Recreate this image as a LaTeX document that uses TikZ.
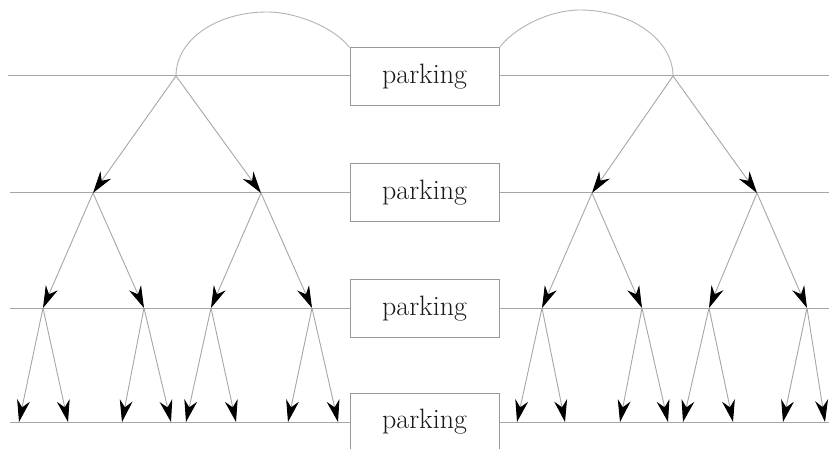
\documentclass[tikz,border=0pt]{standalone}
\usetikzlibrary{arrows.meta}
\tikzset{
  road/.style={draw=black!35, line width=1pt},
  hop/.style={draw=black!35, line width=0.9pt, -{Stealth[length=22pt,width=13pt,inset=7pt,color=black]}},
  park/.style={draw=black!40, line width=1pt, fill=white, minimum width=149pt, minimum height=58pt, inner sep=0pt, text=black!90, font=\fontsize{28}{30}\selectfont}
}
\begin{document}
\begin{tikzpicture}[x=1pt,y=-1pt]
\useasboundingbox (0,0) rectangle (830,449);

% parking boxes
\node[park] (p1) at (424.5,77) {parking};
\node[park] (p2) at (424.5,193) {parking};
\node[park] (p3) at (424.5,308.5) {parking};
\node[park] (p4) at (424.5,422) {parking};

% ends of the lines
\coordinate (w1) at (8,76);  \coordinate (e1) at (829,76);
\coordinate (w2) at (10,193); \coordinate (e2) at (829,193);
\coordinate (w3) at (10,308); \coordinate (e3) at (829,308);
\coordinate (w4) at (10,422); \coordinate (e4) at (829,422);

\draw[road] (w1) -- (p1.west |- w1) (p1.east |- e1) -- (e1);
\draw[road] (w2) -- (p2.west |- w2) (p2.east |- e2) -- (e2);
\draw[road] (w3) -- (p3.west |- w3) (p3.east |- e3) -- (e3);
\draw[road] (w4) -- (p4.west |- w4) (p4.east |- e4) -- (e4);

% left tree
\coordinate (a) at (176,76);
\coordinate (a1) at (93,193);  \coordinate (a2) at (261,193);
\coordinate (a11) at (43,308); \coordinate (a12) at (144,308);
\coordinate (a21) at (211,308); \coordinate (a22) at (312,308);
\coordinate (a111) at (19,422); \coordinate (a112) at (68,422);
\coordinate (a121) at (122,422); \coordinate (a122) at (171,422);
\coordinate (a211) at (186,422); \coordinate (a212) at (236,422);
\coordinate (a221) at (288,422); \coordinate (a222) at (338,422);

% right tree
\coordinate (b) at (673,76);
\coordinate (b1) at (592,193);  \coordinate (b2) at (757,193);
\coordinate (b11) at (542,308); \coordinate (b12) at (642,308);
\coordinate (b21) at (709,308); \coordinate (b22) at (807,308);
\coordinate (b111) at (517,422); \coordinate (b112) at (565,422);
\coordinate (b121) at (620,422); \coordinate (b122) at (668,422);
\coordinate (b211) at (683,422); \coordinate (b212) at (733,422);
\coordinate (b221) at (783,422); \coordinate (b222) at (825,422);

% arcs over the top
\draw[draw=black!30, line width=0.9pt] (a) .. controls (176,40) and (216,12) .. (267,12)
  .. controls (298,12) and (336,29) .. (p1.north west);
\draw[draw=black!30, line width=0.9pt] (p1.north east) .. controls (513,29) and (548,10) .. (580,10)
  .. controls (631,10) and (673,40) .. (b);

% arrows
\foreach \t in {a,b}{
  \draw[hop] (\t) -- (\t1);
  \draw[hop] (\t) -- (\t2);
  \foreach \i in {1,2}{
    \draw[hop] (\t\i) -- (\t\i1);
    \draw[hop] (\t\i) -- (\t\i2);
    \foreach \j in {1,2}{
      \draw[hop] (\t\i\j) -- (\t\i\j1);
      \draw[hop] (\t\i\j) -- (\t\i\j2);
    }
  }
}

\end{tikzpicture}
\end{document}
